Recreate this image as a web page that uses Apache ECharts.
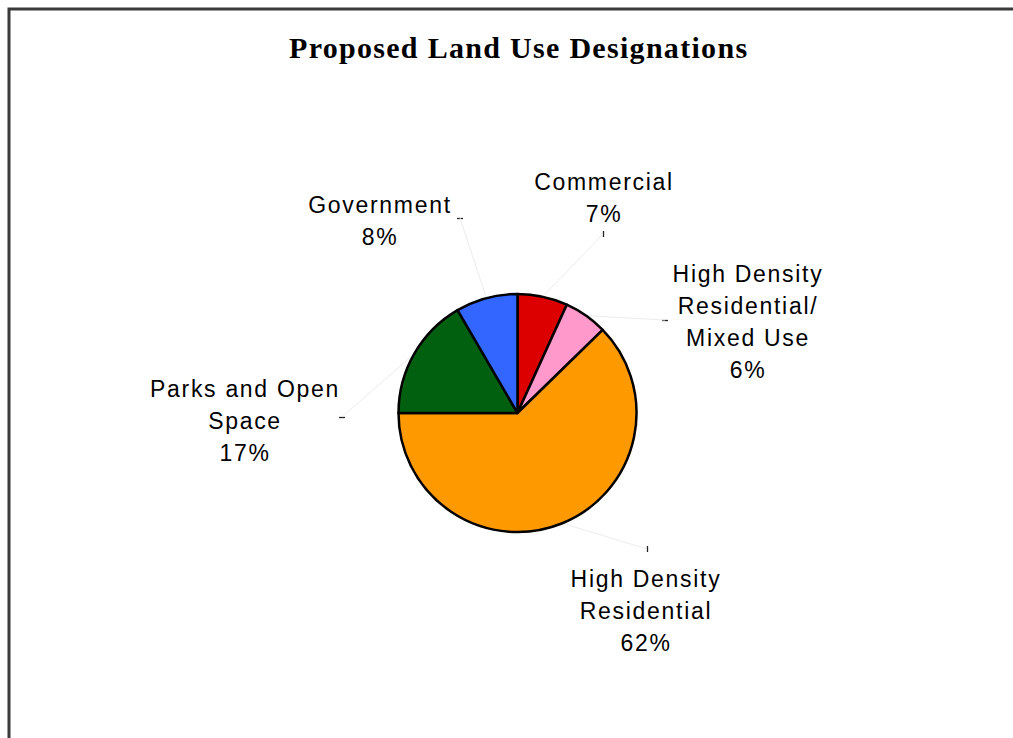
<!DOCTYPE html>
<html>
<head>
<meta charset="utf-8">
<script src="https://cdn.jsdelivr.net/npm/echarts@6/dist/echarts.min.js"></script>
<style>
  html, body { margin: 0; padding: 0; background: #fff; }
  #main { width: 1013px; height: 738px; }
  #main text { letter-spacing: 1.7px; }
  #main text[style*="bold"] { letter-spacing: 1.3px; }
</style>
</head>
<body>
<div id="main"></div>
<script>
// ---- data ----
const titleText = 'Proposed Land Use Designations';
const categories = ['Commercial', 'High Density\nResidential/\nMixed Use', 'High Density\nResidential', 'Parks and Open\nSpace', 'Government'];
const values = [6.8, 5.9, 62.3, 16.6, 8.4];
const colors = ['#dd0000', '#ff99cc', '#ff9900', '#006010', '#3366ff'];

// ---- layout (label block centres, leader-line ends and tick directions, in px) ----
const labelCentres = [[604, 198], [748, 322], [646, 611], [245, 421], [380, 221]];
const leaderEnds = [[603, 234], [665, 320], [647, 549], [342, 417], [460, 218]];
const tickDir = ['v', 'h', 'v', 'h', 'h'];
const pieCentre = [517.5, 413];
const pieRadius = 119;

const total = values.reduce((a, b) => a + b, 0);
const midAngles = [];
let acc = 0;
values.forEach(v => { midAngles.push((acc + v / 2) / total * 2 * Math.PI); acc += v; });

const ticks = leaderEnds.map((p, i) => ({
  type: 'line',
  silent: true,
  shape: tickDir[i] === 'v'
    ? { x1: p[0] + 0.5, y1: p[1] - 3, x2: p[0] + 0.5, y2: p[1] + 3 }
    : { x1: p[0] - 3, y1: p[1] + 0.5, x2: p[0] + 3, y2: p[1] + 0.5 },
  style: { stroke: '#222', lineWidth: 1.3 }
}));

const chart = echarts.init(document.getElementById('main'), null, { renderer: 'svg' });
chart.setOption({
  backgroundColor: '#ffffff',
  animation: false,
  title: {
    text: titleText,
    left: 284,
    top: 27,
    textStyle: { fontFamily: 'Liberation Serif', fontWeight: 'bold', fontSize: 30, color: '#000' }
  },
  graphic: [{
    type: 'rect',
    shape: { x: 9, y: 9, width: 1040, height: 780 },
    style: { fill: 'none', stroke: '#3a3a3a', lineWidth: 3 },
    silent: true
  }].concat(ticks),
  series: [{
    type: 'pie',
    center: pieCentre,
    radius: pieRadius,
    startAngle: 90,
    clockwise: true,
    percentPrecision: 0,
    data: categories.map((c, i) => ({ name: c, value: values[i], itemStyle: { color: colors[i] } })),
    itemStyle: { borderColor: '#000', borderWidth: 2.5 },
    label: {
      show: true,
      formatter: '{b}\n{d}%',
      fontFamily: 'Liberation Sans',
      fontSize: 23,
      lineHeight: 32,
      color: '#000',
      align: 'center'
    },
    labelLine: { show: true, lineStyle: { color: '#ececec', width: 1 } },
    labelLayout: function (p) {
      const i = p.dataIndex;
      const a = midAngles[i];
      const ex = pieCentre[0] + pieRadius * Math.sin(a);
      const ey = pieCentre[1] - pieRadius * Math.cos(a);
      return {
        x: labelCentres[i][0],
        y: labelCentres[i][1],
        align: 'center',
        verticalAlign: 'middle',
        labelLinePoints: [[ex, ey], leaderEnds[i], leaderEnds[i]]
      };
    },
    emphasis: { disabled: true }
  }]
});
</script>
</body>
</html>
